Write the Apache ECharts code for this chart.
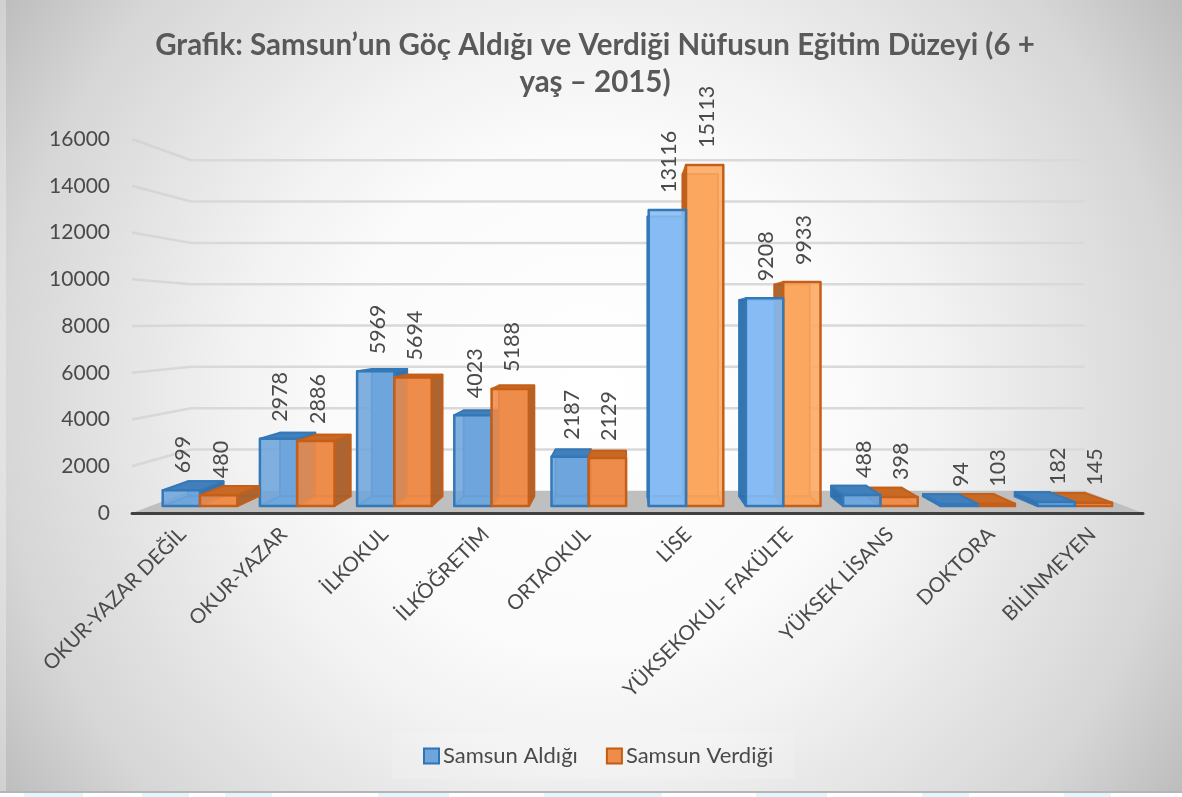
<!DOCTYPE html>
<html><head><meta charset="utf-8">
<style>html,body{margin:0;padding:0;background:#fff;overflow:hidden}#c{width:1182px;height:793px}
#s{position:absolute;left:0;top:793px;width:1182px;height:4px;background:linear-gradient(90deg,#fff 2%,#dff6fb 2%,#dff6fb 7%,#fff 7%,#fff 12%,#dff6fb 12%,#dff6fb 16%,#fff 16%,#fff 19%,#dff6fb 19%,#dff6fb 23%,#fff 23%,#fff 32%,#dff6fb 32%,#dff6fb 38%,#fff 38%,#fff 46%,#dff6fb 46%,#dff6fb 56%,#fff 56%,#fff 64%,#dff6fb 64%,#dff6fb 70%,#fff 70%,#fff 78%,#dff6fb 78%,#dff6fb 82%,#fff 82%,#fff 90%,#dff6fb 90%,#dff6fb 94%,#fff 94%)}</style>
<script src="https://cdn.jsdelivr.net/npm/echarts@6/dist/echarts.min.js"></script>
</head><body><div id="c"></div><div id="s"></div>
<script>
const categories = ["OKUR-YAZAR DEĞİL","OKUR-YAZAR","İLKOKUL","İLKÖĞRETİM","ORTAOKUL","LİSE","YÜKSEKOKUL- FAKÜLTE","YÜKSEK LİSANS","DOKTORA","BİLİNMEYEN"];
const aldigi = [699,2978,5969,4023,2187,13116,9208,488,94,182];
const verdigi = [480,2886,5694,5188,2129,15113,9933,398,103,145];
const yTicks = [0,2000,4000,6000,8000,10000,12000,14000,16000];
const titleText = "Grafik: Samsun’un Göç Aldığı ve Verdiği Nüfusun Eğitim Düzeyi (6 +\nyaş – 2015)";

const FONT = "Lato";
const TXT = "#4a4a4a";
const BAR_VP = [625,328], BAR_K = 0.055;
const WALL_VP = [640,322], WALL_K = 0.116;
const BW = 37.3;
const brightCats = [5,6];
const styles = {
  blue:  {front:"#6ea5dc",bright:"#86bcf3",stroke:"#3378b8",side:"#2f6da6",top:"#4380bb"},
  orange:{front:"#ee8c4b",bright:"#fba760",stroke:"#c55f18",side:"#a4602f",top:"#c96a24"}
};
const proj=(p,vp,k)=>[p[0]+(vp[0]-p[0])*k,p[1]+(vp[1]-p[1])*k];

function barRenderer(kind,offset){
  const st=styles[kind];
  return function(params,api){
    const i=api.value(0), v=api.value(1);
    const base=api.coord([i,0]), topP=api.coord([i,v]);
    const x0=base[0]+offset*BW, x1=x0+BW, yb=base[1], yt=topP[1];
    const fTL=[x0,yt],fTR=[x1,yt],fBL=[x0,yb],fBR=[x1,yb];
    const [bTL,bTR,bBL,bBR]=[fTL,fTR,fBL,fBR].map(p=>proj(p,BAR_VP,BAR_K));
    const order=i<5?(kind==="blue"?10:30):(kind==="blue"?30:10);
    const bright=brightCats.includes(i);
    const stroke={stroke:st.stroke,lineWidth:2,lineJoin:"round"};
    const poly=(pts,fill,z,extra)=>({type:"polygon",z2:order+z,shape:{points:pts},style:Object.assign({fill:fill},stroke,extra||{})});
    const kids=[];
    kids.push(poly([bTL,bTR,bBR,bBL],bright?st.bright:st.front,0,{}));
    kids.push(poly([fBL,fBR,bBR,bBL],st.front,1,{opacity:0.9}));
    if(x1<BAR_VP[0]) kids.push(poly([fTR,bTR,bBR,fBR],st.side,2,{opacity:.9}));
    else if(x0-BAR_VP[0]>30||kind==="orange") kids.push(poly([fTL,bTL,bBL,fBL],st.side,2,{opacity:.9}));
    if(yt>BAR_VP[1]) kids.push(poly([fTL,fTR,bTR,bTL],st.top,3,{}));
    kids.push({type:"polygon",z2:order+4,shape:{points:[fTL,fTR,fBR,fBL]},style:{fill:bright?st.bright:st.front,opacity:0.88}});
    kids.push({type:"polygon",z2:order+5,shape:{points:[fTL,fTR,fBR,fBL]},style:{fill:"none",stroke:st.stroke,lineWidth:2.5,lineJoin:"round"}});
    kids.push({type:"text",z2:40,x:(x0+x1)/2+2,y:yt-17,rotation:Math.PI/2,
      style:{text:String(v),fill:TXT,font:"21.5px "+FONT,align:"left",verticalAlign:"middle"}});
    return {type:"group",children:kids};
  };
}
function gridRenderer(params,api){
  const cs=params.coordSys, v=api.value(0), y=api.coord([0,v])[1];
  const f=[cs.x,y], b=proj([cs.x,y],WALL_VP,WALL_K);
  if(v===0) return {type:"group",children:[]};
  const right=proj([cs.x+cs.width,y],WALL_VP,WALL_K)[0];
  return {type:"group",children:[
    {type:"polyline",z2:1,shape:{points:[b,[right,b[1]]]},style:{stroke:"#d9d9d9",lineWidth:2.5,fill:null}},
    {type:"polyline",z2:1,shape:{points:[f,b]},style:{stroke:"rgba(208,208,208,.7)",lineWidth:2.5,fill:null}}
  ]};
}
function floorRenderer(params,api){
  const cs=params.coordSys, y=cs.y+cs.height;
  const fl=[cs.x,y], fr=[cs.x+cs.width,y];
  return {type:"polygon",z2:2,shape:{points:[fl,proj(fl,WALL_VP,WALL_K),proj(fr,WALL_VP,WALL_K),fr]},style:{fill:"#bfbfbf"}};
}
const chart=echarts.init(document.getElementById("c"),null,{renderer:"canvas"});
chart.setOption({
  animation:false,
  backgroundColor:{type:"radial",x:.5,y:.5,r:.9,colorStops:[{offset:0,color:"#ffffff"},{offset:.35,color:"#fbfbfb"},{offset:.5,color:"#f2f2f2"},{offset:.83,color:"#d6d6d6"},{offset:1,color:"#bcbcbc"}]},
  graphic:[{type:"rect",z:-1,shape:{x:0,y:0,width:6,height:793},style:{fill:"rgba(255,255,255,.3)"}},
           {type:"rect",z:-1,shape:{x:0,y:791,width:1182,height:2},style:{fill:"#b5b5b5"}}],
  title:{text:titleText,left:590,top:22,textAlign:"center",textStyle:{fontFamily:FONT,fontWeight:"bold",fontSize:29.5,lineHeight:37,color:"#595959"}},
  legend:{top:733,left:392,itemWidth:15,itemHeight:15,itemGap:28,itemStyle:{},backgroundColor:"rgba(255,255,255,.15)",padding:[12,21,12,31],
    textStyle:{fontFamily:FONT,fontSize:22,color:TXT,padding:[0,0,0,-1]},
    data:[{name:"Samsun Aldığı",icon:"rect"},{name:"Samsun Verdiği",icon:"rect"}]},
  grid:[{left:132,width:1011,top:139,height:374},
        {left:151.4,width:972,top:145,height:361}],
  xAxis:[
    {gridIndex:0,type:"category",data:categories,axisTick:{show:false},axisLine:{show:true,lineStyle:{color:"#404040",width:3}},z:4,
      axisLabel:{interval:0,rotate:45,margin:18,fontFamily:FONT,fontSize:20.5,color:TXT}},
    {gridIndex:1,type:"category",data:categories,show:false}
  ],
  yAxis:[
    {gridIndex:0,type:"value",min:0,max:16000,interval:2000,splitLine:{show:false},axisLine:{show:false},axisTick:{show:false},
      axisLabel:{margin:22,fontFamily:FONT,fontSize:21,color:TXT,formatter:v=>String(v)}},
    {gridIndex:1,type:"value",min:0,max:16000,interval:2000,show:false,splitLine:{show:false}}
  ],
  series:[
    {type:"custom",silent:true,xAxisIndex:0,yAxisIndex:0,renderItem:floorRenderer,data:[[0]],encode:{x:0},legendHoverLink:false,z:1},
    {type:"custom",silent:true,xAxisIndex:0,yAxisIndex:0,renderItem:gridRenderer,data:yTicks.map(v=>[v]),encode:{y:0},z:1},
    {name:"Samsun Aldığı",type:"custom",xAxisIndex:1,yAxisIndex:1,renderItem:barRenderer("blue",-1),
      data:aldigi.map((v,i)=>[i,v]),encode:{x:0,y:1},itemStyle:{color:"#6ea5dc",borderColor:"#2e75b6",borderWidth:2},z:3},
    {name:"Samsun Verdiği",type:"custom",xAxisIndex:1,yAxisIndex:1,renderItem:barRenderer("orange",0),
      data:verdigi.map((v,i)=>[i,v]),encode:{x:0,y:1},itemStyle:{color:"#ee8c4b",borderColor:"#c55a11",borderWidth:2},z:3}
  ]
});
</script></body></html>
